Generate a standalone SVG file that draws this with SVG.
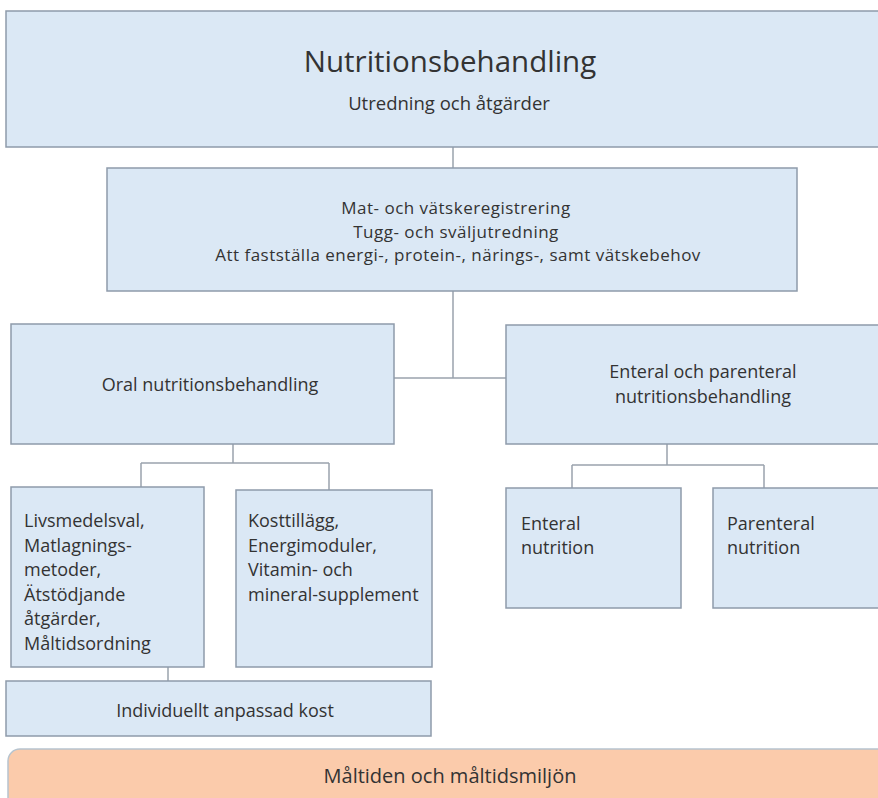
<svg xmlns="http://www.w3.org/2000/svg" width="878" height="798" viewBox="0 0 878 798">
<style>
.box{fill:#dbe8f5;stroke:#8e9baa;stroke-width:1.5}
.org{fill:#fbcbab;stroke:#b7c4cf;stroke-width:1.5}
.t{font-family:"Open Sans","Liberation Sans",sans-serif;fill:#333333;font-size:18px}
.c{text-anchor:middle}
.m{font-size:17px;letter-spacing:0.5px}
.ln{stroke:#9aa3ad;stroke-width:1.5;fill:none}
</style>
<rect width="878" height="798" fill="#ffffff"/>
<g id="connectors">
<path class="ln" d="M453 147V168"/>
<path class="ln" d="M453 291V378M394 378H506"/>
<path class="ln" d="M233 444V463M141 463H329M141 463V487M329 463V490"/>
<path class="ln" d="M667 444V465M572 465H764M572 465V488M764 465V488"/>
<path class="ln" d="M168 667V681"/>
</g>
<g id="n-top">
<rect class="box" x="6" y="11" width="900" height="136"/>
<text class="t c" x="450" y="72" style="font-size:29.5px">Nutritionsbehandling</text>
<text class="t c" x="449" y="110" style="font-size:18.5px">Utredning och åtgärder</text>
</g>
<g id="n-utredning">
<rect class="box" x="107" y="168" width="690" height="123"/>
<text class="t c m" x="456" y="214">Mat- och vätskeregistrering</text>
<text class="t c m" x="456" y="237.5">Tugg- och sväljutredning</text>
<text class="t c m" x="458" y="261">Att fastställa energi-, protein-, närings-, samt vätskebehov</text>
</g>
<g id="n-oral">
<rect class="box" x="11" y="324" width="383" height="120"/>
<text class="t c" x="210" y="391">Oral nutritionsbehandling</text>
</g>
<g id="n-enteral-parenteral">
<rect class="box" x="506" y="325" width="400" height="119"/>
<text class="t c" x="703" y="378">Enteral och parenteral</text>
<text class="t c" x="703" y="403">nutritionsbehandling</text>
</g>
<g id="n-livsmedel">
<rect class="box" x="11" y="487" width="193" height="180"/>
<text class="t" x="24" y="527">Livsmedelsval,</text>
<text class="t" x="24" y="552">Matlagnings-</text>
<text class="t" x="24" y="576">metoder,</text>
<text class="t" x="24" y="601">Ätstödjande</text>
<text class="t" x="24" y="625">åtgärder,</text>
<text class="t" x="24" y="650">Måltidsordning</text>
</g>
<g id="n-kosttillagg">
<rect class="box" x="236" y="490" width="196" height="177"/>
<text class="t" x="248" y="527">Kosttillägg,</text>
<text class="t" x="248" y="552">Energimoduler,</text>
<text class="t" x="248" y="576">Vitamin- och</text>
<text class="t" x="248" y="601">mineral-supplement</text>
</g>
<g id="n-enteral">
<rect class="box" x="506" y="488" width="175" height="120"/>
<text class="t" x="521" y="530">Enteral</text>
<text class="t" x="521" y="554">nutrition</text>
</g>
<g id="n-parenteral">
<rect class="box" x="713" y="488" width="190" height="120"/>
<text class="t" x="727" y="530">Parenteral</text>
<text class="t" x="727" y="554">nutrition</text>
</g>
<g id="n-individuellt">
<rect class="box" x="6" y="681" width="425" height="55"/>
<text class="t c" x="225" y="717">Individuellt anpassad kost</text>
</g>
<g id="n-maltiden">
<rect class="org" x="8" y="749" width="900" height="80" rx="12"/>
<text class="t c" x="450" y="783" style="font-size:20px">Måltiden och måltidsmiljön</text>
</g>
</svg>
